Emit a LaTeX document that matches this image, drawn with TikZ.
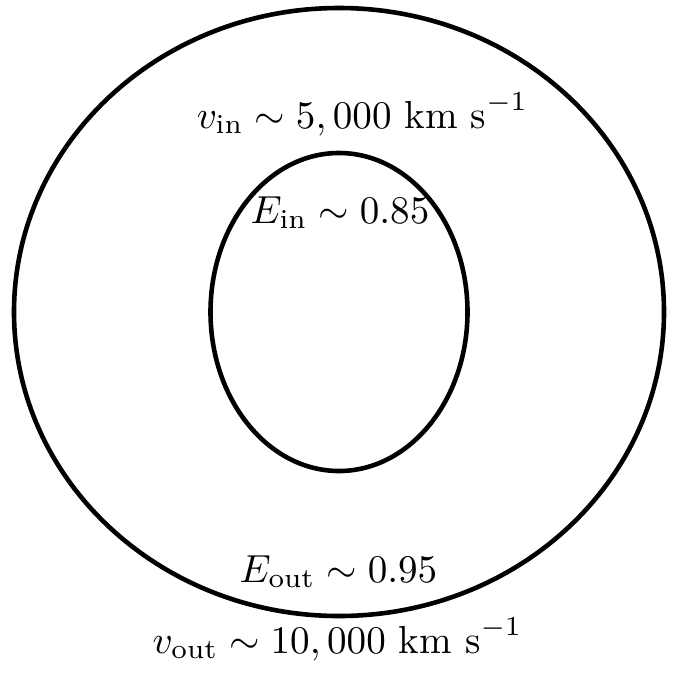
\documentclass[tikz,border=0pt]{standalone}
\usepackage{amsmath}
\usetikzlibrary{calc, positioning}

\begin{document}
\begin{tikzpicture}[x=0.294pt,y=0.294pt,
    lbl/.style={anchor=base,inner sep=0pt,scale=1.15,transform shape}]
\useasboundingbox (0,0) rectangle (685,673);
\coordinate (C) at (339,361);

\draw[line width=1.35pt,black] (C) ellipse [x radius=325, y radius=304];
\draw[line width=1.35pt,black] (C) ellipse [x radius=128.5, y radius=159];

\node[lbl] (vin) at (362.5,545)
    {$v_{\text{in}} \sim 5,000~\text{km s}^{-1}$};
\node[lbl] (Ein) at (340,450)
    {$E_{\text{in}} \sim 0.85$};
\node[lbl] (Eout) at (338.5,91)
    {$E_{\text{out}} \sim 0.95$};
\node[lbl] (vout) at (337.5,20)
    {$v_{\text{out}} \sim 10,000~\text{km s}^{-1}$};
\end{tikzpicture}
\end{document}
